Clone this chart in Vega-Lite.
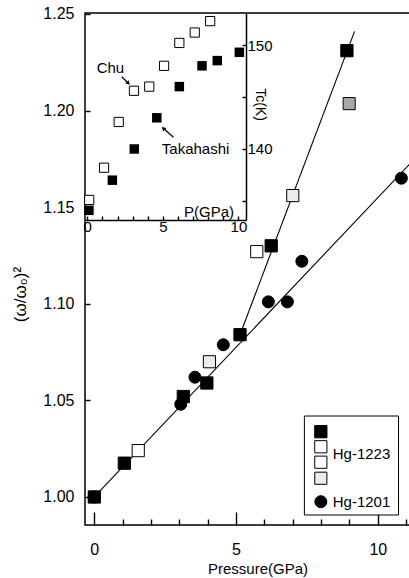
{
  "$schema": "https://vega.github.io/schema/vega-lite/v6.json",
  "width": 325,
  "height": 512,
  "autosize": "none",
  "padding": {"left": 85, "top": 13, "right": 0, "bottom": 53},
  "background": "white",
  "config": {
    "view": {"stroke": "black", "strokeWidth": 1.5},
    "font": "Liberation Sans",
    "axis": {"labelFont": "Liberation Sans", "titleFont": "Liberation Sans", "labelColor": "black", "titleColor": "black", "tickColor": "black", "domainColor": "black", "labelFontSize": 16, "grid": false, "titleFontWeight": "normal", "labelOverlap": false, "labelFlush": false, "tickWidth": 1.4, "domainWidth": 1.5, "ticks": true},
    "text": {"font": "Liberation Sans", "fontSize": 15, "color": "black"}
  },
  "datasets": {
    "main": [
      {"x": 0.0, "y": 1.000, "series": "Hg-1201"},
      {"x": 3.05, "y": 1.048, "series": "Hg-1201"},
      {"x": 3.55, "y": 1.062, "series": "Hg-1201"},
      {"x": 4.55, "y": 1.0788, "series": "Hg-1201"},
      {"x": 6.14, "y": 1.101, "series": "Hg-1201"},
      {"x": 6.81, "y": 1.101, "series": "Hg-1201"},
      {"x": 7.32, "y": 1.122, "series": "Hg-1201"},
      {"x": 10.83, "y": 1.165, "series": "Hg-1201"},
      {"x": 1.55, "y": 1.024, "series": "Hg-1223 b"},
      {"x": 5.73, "y": 1.127, "series": "Hg-1223 b"},
      {"x": 4.06, "y": 1.070, "series": "Hg-1223 c"},
      {"x": 7.00, "y": 1.156, "series": "Hg-1223 c"},
      {"x": 8.99, "y": 1.2036, "series": "Hg-1223 d"},
      {"x": 0.0, "y": 1.000, "series": "Hg-1223 a"},
      {"x": 1.06, "y": 1.0175, "series": "Hg-1223 a"},
      {"x": 3.14, "y": 1.052, "series": "Hg-1223 a"},
      {"x": 3.97, "y": 1.059, "series": "Hg-1223 a"},
      {"x": 5.14, "y": 1.084, "series": "Hg-1223 a"},
      {"x": 6.24, "y": 1.130, "series": "Hg-1223 a"},
      {"x": 8.91, "y": 1.231, "series": "Hg-1223 a"}
    ],
    "lines": [
      {"line": "Hg-1201 fit", "x": 0.0, "y": 1.000},
      {"line": "Hg-1201 fit", "x": 11.135, "y": 1.1725},
      {"line": "Hg-1223 high", "x": 5.14, "y": 1.084},
      {"line": "Hg-1223 high", "x": 9.18, "y": 1.241}
    ],
    "legendBox": [{"x": 7.41, "x2": 10.73, "y": 1.0419, "y2": 0.99068}],
    "legendSymbols": [
      {"x": 7.99, "y": 1.0338, "series": "Hg-1223 a"},
      {"x": 7.99, "y": 1.0260, "series": "Hg-1223 b"},
      {"x": 7.99, "y": 1.0180, "series": "Hg-1223 b"},
      {"x": 7.99, "y": 1.0097, "series": "Hg-1223 c"},
      {"x": 7.99, "y": 0.99757, "series": "Hg-1201"}
    ],
    "legendText": [
      {"x": 8.41, "y": 1.0221, "text": "Hg-1223"},
      {"x": 8.41, "y": 0.99726, "text": "Hg-1201"}
    ],
    "chu": [
      {"x": 0.13, "y": 135.1}, {"x": 1.11, "y": 138.2}, {"x": 2.08, "y": 142.6},
      {"x": 3.09, "y": 145.6}, {"x": 4.10, "y": 146.0}, {"x": 5.08, "y": 148.0},
      {"x": 6.09, "y": 150.2}, {"x": 7.11, "y": 151.2}, {"x": 8.13, "y": 152.3}
    ],
    "takahashi": [
      {"x": 0.11, "y": 134.1}, {"x": 1.66, "y": 137.0}, {"x": 3.11, "y": 140.0},
      {"x": 4.60, "y": 143.0}, {"x": 6.09, "y": 146.0}, {"x": 7.59, "y": 148.0},
      {"x": 8.60, "y": 148.5}, {"x": 10.06, "y": 149.3}
    ],
    "insetText": [
      {"x": 0.62, "y": 147.79, "text": "Chu"},
      {"x": 4.93, "y": 140.0, "text": "Takahashi"},
      {"x": 6.40, "y": 133.91, "text": "P(GPa)"}
    ],
    "arrows": [
      {"name": "Chu", "x": 2.28, "y": 146.95, "x2": 2.72, "y2": 146.32},
      {"name": "Takahashi", "x": 5.70, "y": 141.13, "x2": 5.03, "y2": 141.99}
    ]
  },
  "layer": [
    {
      "encoding": {
        "x": {"field": "x", "type": "quantitative", "scale": {"domain": [-0.328, 11.135], "nice": false, "zero": false},
          "axis": {"orient": "bottom", "values": [0, 1, 2, 3, 4, 5, 6, 7, 8, 9, 10, 11],
            "tickSize": {"condition": {"test": "datum.value % 5 === 0", "value": -13}, "value": -6},
            "labelExpr": "datum.value % 5 === 0 ? datum.label : ''",
            "labelPadding": 29, "domain": false, "title": "Pressure(GPa)", "titleFontSize": 15,
            "titleX": 172.5, "titleY": 48, "titleBaseline": "alphabetic", "titleAnchor": "middle"}},
        "y": {"field": "y", "type": "quantitative", "scale": {"domain": [0.9855, 1.2505], "nice": false, "zero": false},
          "axis": {"orient": "left", "values": [1.0, 1.05, 1.1, 1.15, 1.2, 1.25], "format": ".2f", "tickSize": -5,
            "labelPadding": 16, "domain": false, "title": "(ω/ω₀)²", "titleFontSize": 17,
            "titleX": -65, "titleY": 281, "titleAngle": -90, "titleBaseline": "middle", "titleAlign": "center"}}
      },
      "layer": [
        {"data": {"name": "lines"}, "mark": {"type": "line", "color": "black", "strokeWidth": 1.1, "clip": true},
          "encoding": {"detail": {"field": "line"}}},
        {"data": {"name": "main"}, "mark": {"type": "point", "opacity": 1, "stroke": "black", "strokeWidth": 1, "filled": false},
          "encoding": {
            "shape": {"field": "series", "type": "nominal", "scale": {"domain": ["Hg-1223 a", "Hg-1223 b", "Hg-1223 c", "Hg-1223 d", "Hg-1201"], "range": ["square", "square", "square", "square", "circle"]}, "legend": null},
            "fill": {"field": "series", "type": "nominal", "scale": {"domain": ["Hg-1223 a", "Hg-1223 b", "Hg-1223 c", "Hg-1223 d", "Hg-1201"], "range": ["black", "white", "#ececec", "#a8a8a8", "black"]}, "legend": null},
            "size": {"field": "series", "type": "nominal", "scale": {"domain": ["Hg-1223 a", "Hg-1223 b", "Hg-1223 c", "Hg-1223 d", "Hg-1201"], "range": [150, 144, 125, 85, 150]}, "legend": null}
          }},
        {"data": {"name": "legendBox"}, "mark": {"type": "rect", "fill": "white", "stroke": "black", "strokeWidth": 1},
          "encoding": {"x2": {"field": "x2"}, "y2": {"field": "y2"}}},
        {"data": {"name": "legendSymbols"}, "mark": {"type": "point", "opacity": 1, "stroke": "black", "strokeWidth": 1, "filled": false},
          "encoding": {
            "shape": {"field": "series", "type": "nominal", "legend": null},
            "fill": {"field": "series", "type": "nominal", "legend": null},
            "size": {"field": "series", "type": "nominal", "legend": null}
          }},
        {"data": {"name": "legendText"}, "mark": {"type": "text", "align": "left", "baseline": "middle", "fontSize": 15},
          "encoding": {"text": {"field": "text"}}}
      ]
    },
    {
      "encoding": {
        "x": {"field": "x", "type": "quantitative", "scale": {"domain": [-0.15, 10.5], "range": [0, 161], "nice": false, "zero": false},
          "axis": {"orient": "bottom", "offset": -305, "values": [0, 1, 2, 3, 4, 5, 6, 7, 8, 9, 10], "tickSize": -4,
            "labelExpr": "datum.value % 5 === 0 ? datum.label : ''", "labelPadding": 3, "labelFontSize": 15,
            "domain": true, "title": null}},
        "y": {"field": "y", "type": "quantitative", "scale": {"domain": [133.17, 153.08], "range": [207, 0], "nice": false, "zero": false},
          "axis": {"orient": "right", "offset": -164, "values": [135, 140, 145, 150], "tickSize": -4,
            "labelExpr": "datum.value % 10 === 0 ? datum.label : ''", "labelPadding": 5, "labelFontSize": 15,
            "domain": true, "title": "Tc(K)", "titleFontSize": 14, "titleX": 13, "titleY": 91, "titleAngle": 90,
            "titleBaseline": "middle", "titleAlign": "center"}}
      },
      "layer": [
        {"data": {"name": "chu"}, "mark": {"type": "square", "opacity": 1, "filled": false, "fill": "white", "stroke": "black", "strokeWidth": 1, "size": 85}},
        {"data": {"name": "takahashi"}, "mark": {"type": "square", "opacity": 1, "filled": true, "color": "black", "size": 90}},
        {"data": {"name": "insetText"}, "mark": {"type": "text", "align": "left", "baseline": "middle", "fontSize": 15},
          "encoding": {"text": {"field": "text"}}},
        {"data": {"name": "arrows"}, "mark": {"type": "rule", "color": "black", "strokeWidth": 1.2},
          "encoding": {"x2": {"field": "x2"}, "y2": {"field": "y2"}}},
        {"data": {"name": "arrows"}, "transform": [{"filter": "datum.name === 'Chu'"}],
          "mark": {"type": "point", "shape": "triangle-up", "angle": 135, "filled": true, "color": "black", "opacity": 1, "size": 22},
          "encoding": {"x": {"field": "x2"}, "y": {"field": "y2"}}},
        {"data": {"name": "arrows"}, "transform": [{"filter": "datum.name === 'Takahashi'"}],
          "mark": {"type": "point", "shape": "triangle-up", "angle": 312, "filled": true, "color": "black", "opacity": 1, "size": 22},
          "encoding": {"x": {"field": "x2"}, "y": {"field": "y2"}}}
      ]
    }
  ],
  "resolve": {"scale": {"x": "independent", "y": "independent"}, "axis": {"x": "independent", "y": "independent"}}
}
